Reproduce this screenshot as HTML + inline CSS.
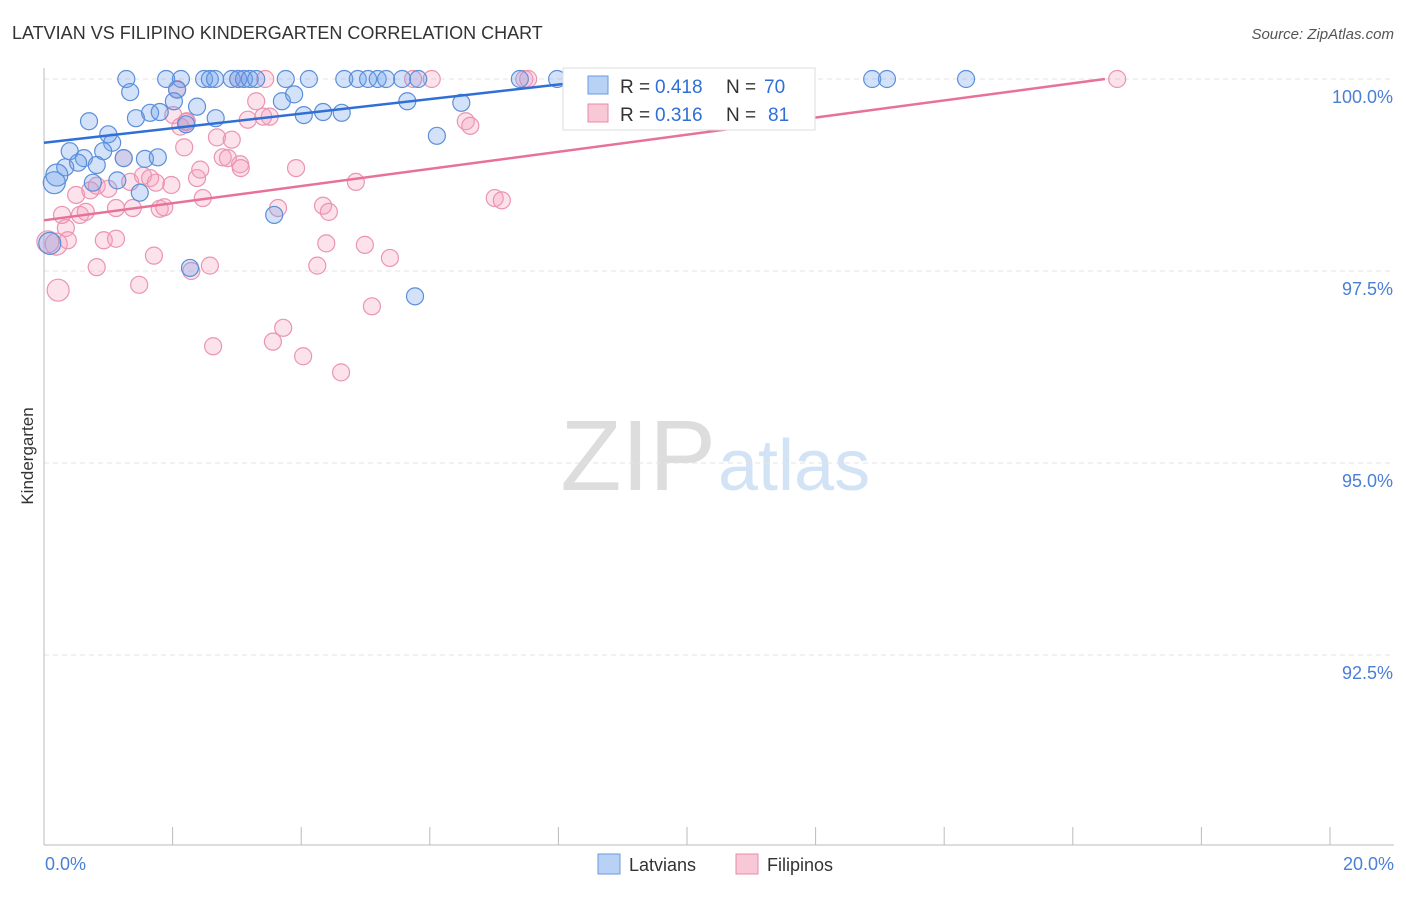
<!DOCTYPE html>
<html><head><meta charset="utf-8"><style>
body{margin:0;background:#fff;font-family:"Liberation Sans",sans-serif}
svg text{font-family:"Liberation Sans",sans-serif}
</style></head><body>
<svg id="c" width="1406" height="892" xmlns="http://www.w3.org/2000/svg">
<text x="12" y="39" font-size="18" fill="#333">LATVIAN VS FILIPINO KINDERGARTEN CORRELATION CHART</text>
<text x="1394" y="39" font-size="15" fill="#555" font-style="italic" text-anchor="end">Source: ZipAtlas.com</text>
<text x="33" y="456" font-size="17" fill="#333" transform="rotate(-90 33 456)" text-anchor="middle">Kindergarten</text>
<text x="716" y="490" font-size="100" fill="#ddd" text-anchor="end" font-family="Liberation Serif">ZIP</text>
<text x="718" y="490" font-size="72" fill="#d3e3f6">atlas</text>
<g id="grid"></g><g id="axes"></g><g id="pts"></g><g id="lines"></g>
<g>
<rect x="563" y="68" width="252" height="62" fill="#fff" stroke="#ddd"/>
<rect x="588" y="76" width="20" height="18" fill="#b8d2f5" stroke="#6b9ae0"/>
<text x="620" y="93" font-size="19" fill="#333">R =</text>
<text x="655" y="93" font-size="19" fill="#2f6fd6">0.418</text>
<text x="726" y="93" font-size="19" fill="#333">N =</text>
<text x="764" y="93" font-size="19" fill="#2f6fd6">70</text>
<rect x="588" y="104" width="20" height="18" fill="#f8c8d6" stroke="#e88aa8"/>
<text x="620" y="121" font-size="19" fill="#333">R =</text>
<text x="655" y="121" font-size="19" fill="#2f6fd6">0.316</text>
<text x="726" y="121" font-size="19" fill="#333">N =</text>
<text x="768" y="121" font-size="19" fill="#2f6fd6">81</text>
</g>
<g>
<rect x="598" y="854" width="22" height="20" fill="#b8d2f5" stroke="#6b9ae0"/>
<text x="629" y="871" font-size="18" fill="#333">Latvians</text>
<rect x="736" y="854" width="22" height="20" fill="#f8c8d6" stroke="#e88aa8"/>
<text x="767" y="871" font-size="18" fill="#333">Filipinos</text>
</g>
</svg>
<script>
const yTicks=[100,97.5,95,92.5];
const yTickLabels=["100.0%","97.5%","95.0%","92.5%"];
const xTickLabels=["0.0%","20.0%"];
const latX=[1.28,1.90,2.13,2.49,2.58,2.66,2.92,3.02,3.11,3.20,3.30,3.76,4.12,4.67,4.88,5.04,5.19,5.32,5.57,5.82,7.40,7.98,8.52,10.42,12.88,13.11,14.34,1.34,2.07,2.02,2.38,3.70,3.89,5.65,6.49,0.70,1.43,1.65,1.80,2.21,2.67,4.04,4.34,4.63,6.11,1.00,1.06,0.40,0.62,0.92,1.24,1.57,1.77,0.33,0.53,0.82,0.20,0.16,0.76,1.14,1.49,3.58,2.27,5.77,0.09];
const latY=[100,100,100,100,100,100,100,100,100,100,100,100,100,100,100,100,100,100,100,100,100,100,100,100,100,100,100,99.83,99.86,99.71,99.64,99.71,99.80,99.71,99.69,99.45,99.49,99.56,99.57,99.41,99.49,99.53,99.57,99.56,99.26,99.28,99.17,99.06,98.97,99.06,98.97,98.96,98.98,98.85,98.91,98.88,98.75,98.65,98.65,98.68,98.52,98.23,97.54,97.17,97.86];
const filX=[0.19,0.06,0.22,0.34,0.37,0.28,0.50,0.56,0.65,0.72,0.82,1.00,0.82,0.93,1.12,1.12,1.24,1.34,1.38,1.48,1.54,1.65,1.74,1.80,1.87,1.71,1.98,2.01,2.12,2.18,2.22,2.29,2.38,2.47,2.43,2.58,2.63,2.69,2.78,2.86,2.92,3.05,3.06,3.17,3.30,3.51,3.64,3.56,3.72,3.92,4.03,4.25,4.34,4.43,4.39,4.62,4.85,4.99,5.10,5.38,6.56,6.63,7.01,7.12,2.07,2.21,3.41,5.74,6.03,7.47,7.53,3.44,11.76,16.69,3.02];
const filY=[97.85,97.88,97.25,98.06,97.90,98.23,98.49,98.23,98.27,98.55,98.61,98.57,97.55,97.90,97.92,98.32,98.97,98.66,98.32,97.32,98.74,98.71,98.65,98.31,98.33,97.70,98.62,99.53,99.38,99.11,99.45,97.50,98.71,98.45,98.82,97.57,96.52,99.24,98.98,98.97,99.21,98.89,98.84,99.47,99.71,99.51,98.32,96.58,96.76,98.84,96.39,97.57,98.35,98.27,97.86,96.18,98.66,97.84,97.04,97.67,99.45,99.39,98.45,98.42,99.87,99.44,99.51,100,100,100,100,100,100,100,100];
const latLine=[0,99.17,8.65,99.99];
const filLine=[0,98.16,16.5,100];
const NS="http://www.w3.org/2000/svg";
const X=v=>44+v*64.3, Y=v=>79+(100-v)*76.8;
function mk(p,t,a){const e=document.createElementNS(NS,t);for(const k in a)e.setAttribute(k,a[k]);p.appendChild(e);return e;}
const grid=document.getElementById('grid'),axes=document.getElementById('axes'),pts=document.getElementById('pts'),lines=document.getElementById('lines');
yTicks.forEach((t,i)=>{
 const l=mk(grid,'line',{x1:44,x2:1394,y1:Y(t),y2:Y(t),stroke:'#e3e3e3','stroke-dasharray':'5,4'});
 
 
 const tx=mk(axes,'text',{x:1393,y:Y(t)+24,'font-size':18,fill:'#4a7fd6','text-anchor':'end'});tx.textContent=yTickLabels[i];
 
 
});
mk(axes,'line',{x1:44,x2:44,y1:68,y2:845,stroke:'#bbb'});
mk(axes,'line',{x1:44,x2:1394,y1:845,y2:845,stroke:'#bbb'});
for(let i=0;i<=10;i++){const x=X(i*2);mk(axes,'line',{x1:x,x2:x,y1:827,y2:845,stroke:'#bbb'});}
[[0,X(0)+1,'start'],[1,1394,'end']].forEach(([i,x,a])=>{const t=mk(axes,'text',{x:x,y:870,'font-size':18,fill:'#4a7fd6','text-anchor':a});t.textContent=xTickLabels[i];
 
 });
function dots(xs,ys,fill,stroke,name){xs.forEach((x,i)=>{const r=(x<0.25)?11:8.5;const c=mk(pts,'circle',{cx:X(x),cy:Y(ys[i]),r:r,fill:fill,stroke:stroke,'stroke-width':1.2});
 
 });}
dots(filX,filY,'rgba(244,160,190,0.3)','#eb94b2','point-filipino');
dots(latX,latY,'rgba(110,160,235,0.3)','#5b8fd9','point-latvian');
const l1=mk(lines,'line',{x1:X(latLine[0]),y1:Y(latLine[1]),x2:X(latLine[2]),y2:Y(latLine[3]),stroke:'#2f6fd6','stroke-width':2.5});


const l2=mk(lines,'line',{x1:X(filLine[0]),y1:Y(filLine[1]),x2:X(filLine[2]),y2:Y(filLine[3]),stroke:'#e8719a','stroke-width':2.5});


</script>
</body></html>
